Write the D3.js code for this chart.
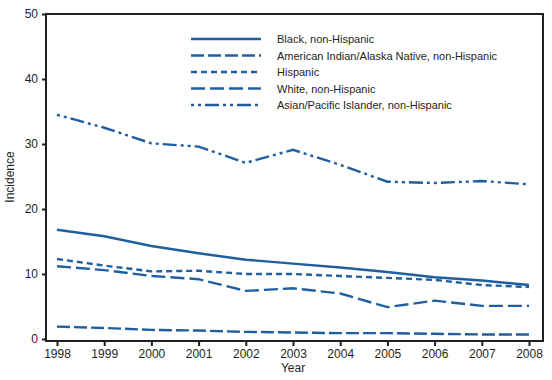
<!DOCTYPE html>
<html><head><meta charset="utf-8">
<script src="https://cdn.jsdelivr.net/npm/d3@7"></script>
<style>body{margin:0;background:#fff}svg{display:block}text{font-family:"Liberation Sans",Arial,sans-serif;fill:#231f20}</style>
</head><body><svg id="c" width="552" height="380"></svg>
<script>
const years = [1998,1999,2000,2001,2002,2003,2004,2005,2006,2007,2008];
const black = [16.8,15.8,14.3,13.2,12.2,11.6,11.0,10.3,9.5,9.0,8.3];
const aian = [1.9,1.7,1.4,1.3,1.1,1.0,0.9,0.9,0.8,0.7,0.7];
const hispanic = [12.3,11.3,10.4,10.5,10.0,10.0,9.7,9.4,9.1,8.3,8.0];
const white = [11.2,10.6,9.7,9.2,7.4,7.8,7.0,4.9,5.9,5.1,5.1];
const api = [34.5,32.5,30.1,29.6,27.1,29.1,26.8,24.2,24.0,24.3,23.8];
const seriesNames = ["Black, non-Hispanic","American Indian/Alaska Native, non-Hispanic","Hispanic","White, non-Hispanic","Asian/Pacific Islander, non-Hispanic"];
const yTicks = [0,10,20,30,40,50];

const dashes = [null,"13,4","6,4","14,5","3,4,3,4,14,4"];
const seriesData = [black,aian,hispanic,white,api];
const color = "#1f5f9f";
const ink = "#231f20";

const svg = d3.select("#c");
const x = d3.scaleLinear().domain([1998,2008]).range([57,529]);
const y = d3.scaleLinear().domain([0,50]).range([339,14]);
const L=46, R=543, T=14, B=341;

// frame
svg.append("rect").attr("x",L).attr("y",T).attr("width",R-L).attr("height",B-T)
  .attr("fill","none").attr("stroke",ink).attr("stroke-width",2);

// y axis
const ya = svg.append("g").attr("transform",`translate(${L},0)`)
  .call(d3.axisLeft(y).tickValues(yTicks).tickSize(4).tickPadding(4).tickFormat(d3.format("d")));
ya.select(".domain").remove();
ya.selectAll("line").attr("stroke",ink).attr("stroke-width",2);
ya.selectAll("text").attr("font-size",12).style("fill",ink).attr("font-family","Liberation Sans, Arial, sans-serif");

// x axis
const xa = svg.append("g").attr("transform",`translate(0,${B})`)
  .call(d3.axisBottom(x).tickValues(years).tickSize(5).tickPadding(3).tickFormat(d3.format("d")));
xa.select(".domain").remove();
xa.selectAll("line").attr("stroke",ink).attr("stroke-width",2);
xa.selectAll("text").attr("font-size",12).style("fill",ink).attr("font-family","Liberation Sans, Arial, sans-serif");

svg.append("text").attr("x",293).attr("y",372).attr("text-anchor","middle").attr("font-size",12).text("Year");
svg.append("text").attr("transform","translate(14,177) rotate(-90)").attr("text-anchor","middle").attr("font-size",12).text("Incidence");

const line = d3.line().x((d,i)=>x(years[i])).y(d=>y(d));
seriesData.forEach((s,k)=>{
  svg.append("path").datum(s).attr("d",line).attr("fill","none").attr("stroke",color)
    .attr("stroke-width",2.4).attr("stroke-dasharray",dashes[k]);
});

// legend
const lg = svg.append("g");
seriesNames.forEach((n,k)=>{
  const yy = 39 + k*16.5;
  lg.append("line").attr("x1",191).attr("x2",261).attr("y1",yy).attr("y2",yy)
    .attr("stroke",color).attr("stroke-width",2.4).attr("stroke-dasharray",dashes[k]);
  lg.append("text").attr("x",277).attr("y",yy+4).attr("font-size",11).text(n);
});
</script></body></html>
